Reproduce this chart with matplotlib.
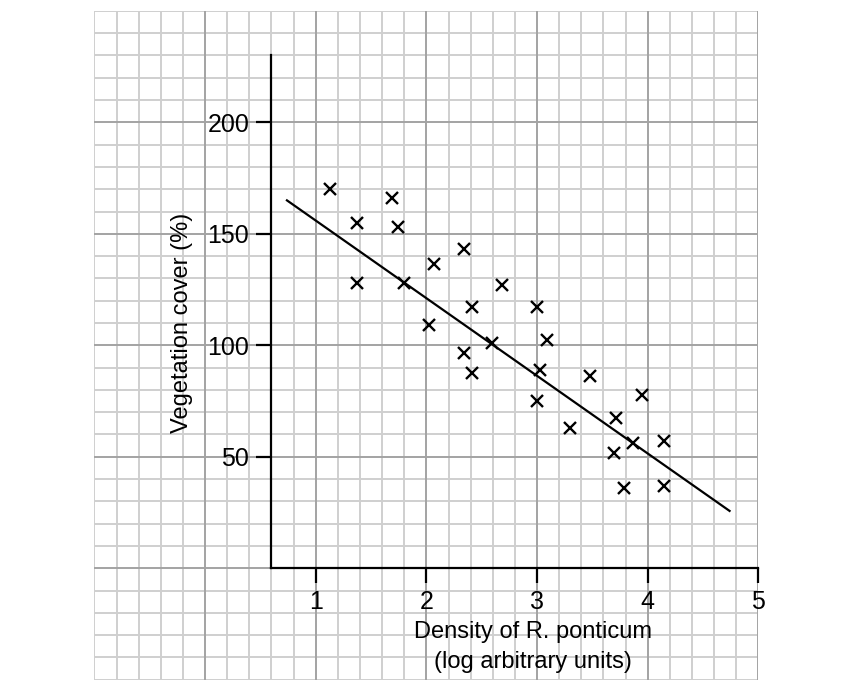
"""
Vegetation cover against density of R. ponticum, drawn on graph paper
with a fitted line of best fit.
"""

import matplotlib
matplotlib.use("Agg")
import matplotlib.pyplot as plt
import numpy as np

plt.rcParams["font.family"] = ["Liberation Sans", "DejaVu Sans"]

density = [1.13, 1.69, 1.37, 1.74, 2.34, 2.07, 1.37, 1.80, 2.68, 2.41,
           2.02, 2.59, 2.34, 2.41, 3.00, 3.09, 3.03, 3.48, 3.00, 3.95,
           3.30, 3.71, 3.87, 4.15, 3.70, 3.79, 4.15]
cover = [170, 166, 155, 153, 143, 136.5, 128, 128, 127, 117,
         109, 101, 96.5, 87.5, 117, 102.5, 89, 86, 75, 77.5,
         63, 67.5, 56, 57, 51.5, 36, 37]

# Line of best fit, end points
fit_x = [0.74, 4.74]
fit_y = [165, 25.7]

x_ticks = [1, 2, 3, 4, 5]
y_ticks = [50, 100, 150, 200]

MINOR_GRID = "#cfcfcf"
MAJOR_GRID = "#a3a3a3"

fig = plt.figure(figsize=(8.56, 6.92), dpi=100)
ax = fig.add_axes([0.1103, 0.0178, 0.7756, 0.9665])
ax.set_xlim(-1, 5)
ax.set_ylim(-50, 250)

# graph paper
for gx in np.arange(-1, 5.001, 0.2):
    major = abs(gx - round(gx)) < 1e-6 and -1 < gx < 5
    ax.axvline(gx, color=MAJOR_GRID if major else MINOR_GRID,
               lw=1.4, zorder=0.5 if major else 0.3)
for gy in np.arange(-50, 250.001, 10):
    major = abs(gy % 50) < 1e-6 and -50 < gy < 250
    ax.axhline(gy, color=MAJOR_GRID if major else MINOR_GRID,
               lw=1.4, zorder=0.5 if major else 0.3)

for side in ["top", "right"]:
    ax.spines[side].set_visible(False)
ax.spines["left"].set_position(("data", 0.6))
ax.spines["left"].set_bounds(0, 230)
ax.spines["bottom"].set_position(("data", 0))
ax.spines["bottom"].set_bounds(0.6, 5)
for side in ["left", "bottom"]:
    ax.spines[side].set_linewidth(1.6)
    ax.spines[side].set_zorder(3)

ax.set_xticks(x_ticks)
ax.set_yticks(y_ticks)
ax.tick_params(direction="out", length=11, width=1.6, pad=5,
               labelsize=18, colors="black")

ax.plot(fit_x, fit_y, color="black", lw=1.6, zorder=4)
ax.plot(density, cover, linestyle="None", marker="x", color="black",
        markersize=9, markeredgewidth=1.7, zorder=5)

fig.text(533 / 856, 1 - 647 / 692,
         "Density of R. ponticum\n(log arbitrary units)",
         ha="center", va="center", fontsize=17, linespacing=1.45)
fig.text(182 / 856, 1 - 323 / 692, "Vegetation cover (%)",
         ha="center", va="center", rotation=90, fontsize=17)

fig.savefig("out.png", dpi=100)
